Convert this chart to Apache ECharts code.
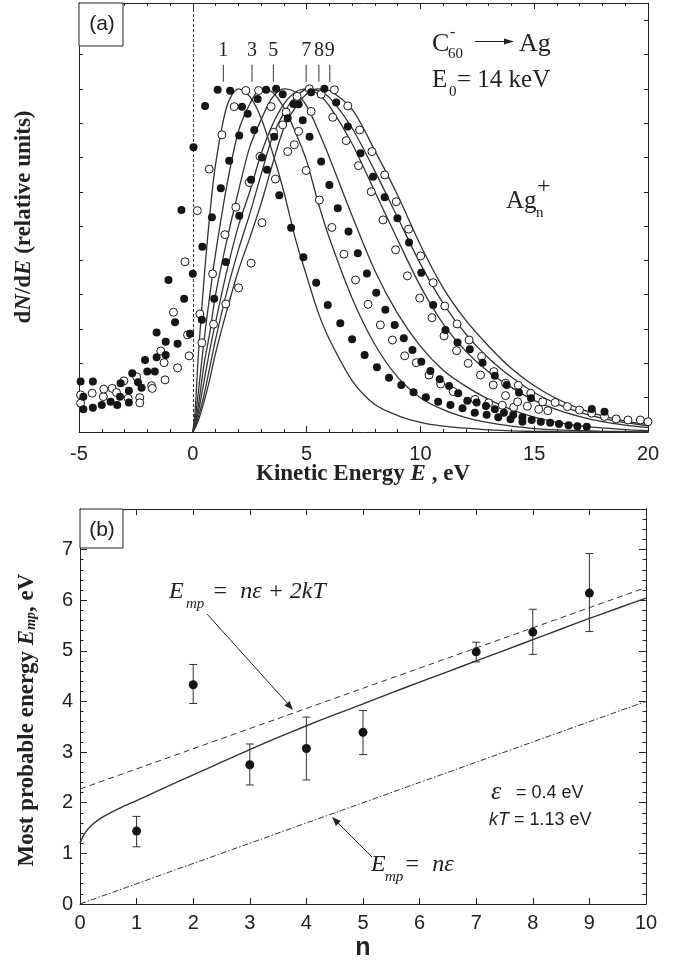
<!DOCTYPE html>
<html>
<head>
<meta charset="utf-8">
<script src="https://cdn.jsdelivr.net/npm/echarts@6/dist/echarts.min.js"></script>
<style>
  html, body { margin: 0; padding: 0; background: #fff; }
  #chart { width: 678px; height: 962px; }
</style>
</head>
<body>
<div id="chart"></div>
<script>
// ---- panel (a): fitted curves, sampled on one energy grid ----
const fitE = [0, 0.1, 0.25, 0.5, 0.75, 1, 1.5, 2, 2.5, 3, 3.5, 4, 4.5, 5, 5.5, 6, 7, 8, 9, 10, 11, 12, 13, 14, 15, 16, 17, 18, 19, 20];
const fit1 = [0, 0.06, 0.23, 0.45, 0.635, 0.78, 0.95, 1.0, 0.978, 0.915, 0.815, 0.7, 0.565, 0.455, 0.35, 0.27, 0.15, 0.08, 0.048, 0.028, 0.017, 0.011, 0.006, 0.003, 0.002, 0.001, 0, 0, 0, 0];
const fit3 = [0, 0.035, 0.12, 0.27, 0.4, 0.52, 0.72, 0.875, 0.955, 1.0, 0.99, 0.945, 0.875, 0.79, 0.67, 0.565, 0.39, 0.255, 0.16, 0.1, 0.065, 0.042, 0.027, 0.017, 0.01, 0.006, 0.004, 0.002, 0.001, 0];
const fit5 = [0, 0.025, 0.08, 0.2, 0.29, 0.4, 0.56, 0.7, 0.83, 0.91, 0.975, 1.0, 0.99, 0.95, 0.88, 0.8, 0.63, 0.47, 0.345, 0.25, 0.18, 0.133, 0.095, 0.065, 0.043, 0.028, 0.018, 0.012, 0.007, 0.004];
const fit7 = [0, 0.02, 0.06, 0.15, 0.24, 0.32, 0.47, 0.6, 0.7, 0.81, 0.895, 0.955, 0.99, 1.0, 0.985, 0.95, 0.84, 0.7, 0.56, 0.425, 0.315, 0.235, 0.175, 0.13, 0.092, 0.065, 0.045, 0.03, 0.02, 0.013];
const fit8 = [0, 0.015, 0.045, 0.11, 0.19, 0.27, 0.41, 0.53, 0.635, 0.75, 0.86, 0.93, 0.975, 0.998, 0.995, 0.975, 0.885, 0.76, 0.625, 0.49, 0.375, 0.285, 0.215, 0.16, 0.115, 0.082, 0.057, 0.04, 0.027, 0.018];
const fit9 = [0, 0.012, 0.035, 0.09, 0.155, 0.23, 0.355, 0.47, 0.565, 0.665, 0.78, 0.885, 0.945, 0.985, 1.0, 0.995, 0.94, 0.82, 0.69, 0.545, 0.42, 0.325, 0.25, 0.185, 0.135, 0.097, 0.068, 0.047, 0.032, 0.022];

// measured spectra, [E, dN/dE]
const dotsFilled = [
  [-4.93,0.147],[-4.81,0.103],[-4.81,0.066],[-4.39,0.147],[-4.39,0.071],[-4.0,0.079],[-3.61,0.088],[-3.32,0.079],
  [-3.2,0.103],[-3.17,0.142],[-2.81,0.12],[-2.81,0.086],[-2.66,0.171],[-2.41,0.145],[-2.25,0.129],[-2.1,0.21],
  [-2.0,0.176],[-1.67,0.176],[-1.59,0.29],[-1.59,0.218],[-1.19,0.263],[-1.19,0.224],[-1.07,0.443],[-0.78,0.32],
  [-0.67,0.257],[-0.5,0.647],[-0.38,0.388],[-0.12,0.286],[0.0,0.461],[0.03,0.83],
  [0.40,0.327],[0.42,0.54],[0.54,0.95],[0.84,0.626],[0.94,0.388],[1.09,0.997],[1.23,0.71],[1.45,0.495],
  [1.6,0.79],[1.64,0.994],[2.04,0.864],[2.04,0.63],[2.16,0.948],[2.41,0.927],[2.56,0.735],[2.7,0.88],
  [2.85,0.97],[3.04,0.80],[3.22,0.997],[3.26,0.764],[3.58,0.86],[3.66,1.0],[3.8,0.69],[3.95,0.984],
  [4.17,0.914],[4.32,0.595],[4.42,0.956],[4.65,0.955],[4.83,0.908],[4.86,0.509],[5.13,0.86],[5.2,0.99],
  [5.42,0.435],[5.64,0.788],[5.78,1.0],[5.93,0.37],[6.0,0.72],[6.3,0.96],[6.37,0.652],[6.48,0.317],
  [6.81,0.89],[6.84,0.584],[7.0,0.27],[7.25,0.521],[7.37,0.812],[7.55,0.224],[7.65,0.462],[7.92,0.744],
  [8.06,0.406],[8.09,0.189],[8.43,0.684],[8.46,0.356],[8.62,0.158],[8.87,0.312],[8.99,0.623],[9.16,0.137],
  [9.27,0.273],[9.5,0.552],[9.65,0.239],[9.7,0.116],[10.04,0.464],[10.04,0.205],[10.24,0.101],[10.44,0.178],
  [10.56,0.37],[10.78,0.088],[10.85,0.154],[11.1,0.297],[11.26,0.134],[11.32,0.079],[11.63,0.261],[11.66,0.113],
  [11.85,0.069],[12.06,0.091],[12.17,0.241],[12.39,0.056],[12.47,0.086],[12.73,0.202],[12.88,0.076],[12.91,0.05],
  [13.27,0.164],[13.27,0.066],[13.42,0.043],[13.67,0.056],[13.79,0.137],[13.96,0.037],[14.08,0.05],[14.33,0.115],
  [14.48,0.043],[14.48,0.03],[14.86,0.098],[14.89,0.035],[15.29,0.03],[15.7,0.027],[16.09,0.023],[16.51,0.02],
  [16.9,0.017],[17.31,0.015],[17.53,0.067],[18.09,0.059]
];
const dotsOpen = [
  [-4.93,0.108],[-4.93,0.084],[-4.42,0.113],[-3.93,0.103],[-3.91,0.125],[-3.54,0.127],[-3.35,0.115],[-3.03,0.149],
  [-2.84,0.098],[-2.47,0.161],[-2.33,0.1],[-2.33,0.085],[-1.81,0.135],[-1.78,0.127],[-1.41,0.236],[-1.26,0.202],
  [-1.22,0.152],[-0.85,0.349],[-0.67,0.187],[-0.34,0.496],[-0.23,0.283],[-0.16,0.222],
  [0.2,0.645],[0.31,0.344],[0.40,0.26],[0.72,0.766],[0.87,0.461],[0.91,0.314],[1.28,0.866],[1.41,0.575],
  [1.45,0.373],[1.82,0.948],[1.89,0.655],[2.01,0.42],[2.33,0.995],[2.48,0.727],[2.56,0.492],[2.89,0.995],
  [2.95,0.803],[3.04,0.61],[3.44,0.948],[3.55,0.873],[3.63,0.737],[3.95,0.895],[4.1,0.932],[4.17,0.817],
  [4.46,0.837],[4.58,0.978],[4.65,0.876],[4.98,0.762],[5.12,1.0],[5.2,0.934],[5.56,0.676],[5.64,0.984],
  [6.11,0.596],[6.15,0.917],[6.22,0.997],[6.64,0.518],[6.74,0.849],[6.81,0.95],[7.15,0.443],[7.28,0.776],
  [7.33,0.88],[7.7,0.372],[7.84,0.70],[7.87,0.817],[8.24,0.312],[8.36,0.618],[8.43,0.749],[8.77,0.268],
  [8.91,0.531],[8.94,0.671],[9.31,0.222],[9.43,0.455],[9.48,0.591],[9.82,0.202],[9.97,0.39],[10.01,0.513],
  [10.38,0.166],[10.51,0.333],[10.56,0.435],[10.89,0.14],[11.04,0.28],[11.07,0.367],[11.44,0.118],[11.59,0.237],
  [11.61,0.315],[12.1,0.2],[12.14,0.268],[12.4,0.095],[12.64,0.166],[12.69,0.22],[13.0,0.085],[13.2,0.137],
  [13.23,0.176],[13.6,0.078],[13.74,0.106],[13.74,0.142],[14.1,0.072],[14.27,0.088],[14.3,0.136],[14.7,0.075],
  [14.85,0.113],[15.2,0.066],[15.37,0.088],[15.6,0.062],[15.92,0.086],[16.46,0.074],[16.99,0.064],[17.53,0.055],
  [18.09,0.045],[18.6,0.038],[19.12,0.035],[19.66,0.035],[20.0,0.03]
];

// cluster size marks above the peaks
const peakNames = ['1', '3', '5', '7', '8', '9'];
const peakE = [1.34, 2.6, 3.54, 4.98, 5.54, 6.02];

// ---- panel (b) ----
const bN = [1, 2, 3, 4, 5, 7, 8, 9];
const bEmp = [1.44, 4.33, 2.75, 3.07, 3.39, 4.98, 5.37, 6.14];
const bLow = [1.13, 3.96, 2.35, 2.45, 2.95, 4.78, 4.93, 5.38];
const bHigh = [1.73, 4.73, 3.16, 3.69, 3.82, 5.17, 5.82, 6.92];
const modelN = [0, 0.05, 0.1, 0.2, 0.35, 0.5, 0.75, 1, 1.5, 2, 2.5, 3, 3.5, 4, 4.5, 5, 5.5, 6, 6.5, 7, 7.5, 8, 8.5, 9, 9.5, 10];
const modelE = [1.2, 1.33, 1.42, 1.55, 1.68, 1.78, 1.92, 2.04, 2.3, 2.55, 2.8, 3.05, 3.29, 3.52, 3.74, 3.95, 4.17, 4.38, 4.59, 4.8, 5.01, 5.22, 5.43, 5.64, 5.84, 6.04];
const upperN = [0, 10];
const upperE = [2.27, 6.25];   // n*eps + 2kT
const lowerN = [0, 10];
const lowerE = [0, 4.0];       // n*eps

const INK = '#222';
const SERIF = '"Liberation Serif", serif';
const SANS = '"Liberation Sans", sans-serif';

const pairs = (xs, ys) => xs.map((x, i) => [x, ys[i]]);

function fitSeries(vals) {
  return {
    type: 'line', xAxisIndex: 0, yAxisIndex: 0,
    data: pairs(fitE, vals),
    showSymbol: false, smooth: 0.3,
    lineStyle: { color: '#333', width: 1.3 },
    z: 3
  };
}

function boxAxis(extra) {
  return Object.assign({
    type: 'value',
    axisLine: { onZero: false, lineStyle: { color: INK, width: 1 } },
    axisTick: { inside: true, length: 6, lineStyle: { color: INK } },
    axisLabel: { show: false },
    splitLine: { show: false }
  }, extra);
}

const chart = echarts.init(document.getElementById('chart'), null, { renderer: 'canvas' });

chart.setOption({
  animation: false,
  backgroundColor: '#fff',
  grid: [
    { left: 79, top: 3, width: 569, height: 429 },
    { left: 80, top: 509, width: 566, height: 395 }
  ],
  xAxis: [
    boxAxis({ gridIndex: 0, position: 'bottom', min: -5, max: 20, interval: 5,
      minorTick: { show: true, splitNumber: 5, length: 3, lineStyle: { color: INK } },
      axisLabel: { show: true, margin: 12, color: INK, fontFamily: SANS, fontSize: 20 } }),
    boxAxis({ gridIndex: 0, position: 'top', min: -5, max: 20, interval: 5,
      minorTick: { show: true, splitNumber: 5, length: 3, lineStyle: { color: INK } } }),
    boxAxis({ gridIndex: 1, position: 'bottom', min: 0, max: 10, interval: 1,
      axisLabel: { show: true, margin: 9, color: INK, fontFamily: SANS, fontSize: 20 } }),
    boxAxis({ gridIndex: 1, position: 'top', min: 0, max: 10, interval: 1 })
  ],
  yAxis: [
    boxAxis({ gridIndex: 0, position: 'left', min: 0, max: 1.25, interval: 0.1, axisTick: { inside: true, length: 4, lineStyle: { color: INK } } }),
    boxAxis({ gridIndex: 0, position: 'right', min: 0, max: 1.25, interval: 0.1, axisTick: { inside: true, length: 4, lineStyle: { color: INK } } }),
    boxAxis({ gridIndex: 1, position: 'left', min: 0, max: 7.8, interval: 1, axisTick: { inside: true, length: 7, lineStyle: { color: INK } },
      axisLabel: { show: true, margin: 7, color: INK, fontFamily: SANS, fontSize: 20, showMaxLabel: false } }),
    boxAxis({ gridIndex: 1, position: 'left', min: 0, max: 7.8, interval: 0.2, axisTick: { inside: true, length: 3.5, lineStyle: { color: INK } } }),
    boxAxis({ gridIndex: 1, position: 'right', min: 0, max: 7.8, interval: 1, axisTick: { inside: true, length: 7, lineStyle: { color: INK } } }),
    boxAxis({ gridIndex: 1, position: 'right', min: 0, max: 7.8, interval: 0.2, axisTick: { inside: true, length: 3.5, lineStyle: { color: INK } } })
  ],
  series: [
    fitSeries(fit1), fitSeries(fit3), fitSeries(fit5), fitSeries(fit7), fitSeries(fit8), fitSeries(fit9),
    {
      type: 'scatter', xAxisIndex: 0, yAxisIndex: 0, data: dotsOpen,
      symbol: 'circle', symbolSize: 8,
      itemStyle: { color: '#fff', borderColor: '#1a1a1a', borderWidth: 1, opacity: 1 },
      z: 4
    },
    {
      type: 'scatter', xAxisIndex: 0, yAxisIndex: 0, data: dotsFilled,
      symbol: 'circle', symbolSize: 8,
      itemStyle: { color: '#151515', opacity: 1 },
      z: 5,
      markLine: {
        silent: true, symbol: 'none', label: { show: false },
        lineStyle: { color: '#333', width: 1, type: [3, 2] },
        data: [{ xAxis: 0 }]
      }
    },
    {
      type: 'scatter', xAxisIndex: 0, yAxisIndex: 0,
      data: peakE.map((e, i) => ({ value: [e, 1.045], name: peakNames[i] })),
      symbol: 'rect', symbolSize: [1, 17],
      itemStyle: { color: '#333', opacity: 1 },
      label: { show: true, position: 'top', distance: 4, formatter: p => p.name,
        color: INK, fontFamily: SERIF, fontSize: 20 },
      z: 6
    },
    // panel (b)
    {
      type: 'line', xAxisIndex: 2, yAxisIndex: 2, data: pairs(upperN, upperE),
      showSymbol: false, lineStyle: { color: '#333', width: 1, type: [6, 4] }
    },
    {
      type: 'line', xAxisIndex: 2, yAxisIndex: 2, data: pairs(lowerN, lowerE),
      showSymbol: false, lineStyle: { color: '#333', width: 1, type: [6, 2, 1.5, 2] }
    },
    {
      type: 'line', xAxisIndex: 2, yAxisIndex: 2, data: pairs(modelN, modelE),
      showSymbol: false, smooth: 0.2,
      lineStyle: { color: '#333', width: 1.4 }
    },
    {
      type: 'custom', xAxisIndex: 2, yAxisIndex: 2,
      data: bN.map((n, i) => [n, bLow[i], bHigh[i]]),
      renderItem: function (params, api) {
        const lo = api.coord([api.value(0), api.value(1)]);
        const hi = api.coord([api.value(0), api.value(2)]);
        const w = 4;
        const st = { stroke: '#333', lineWidth: 1 };
        return {
          type: 'group',
          children: [
            { type: 'line', shape: { x1: lo[0], y1: lo[1], x2: hi[0], y2: hi[1] }, style: st },
            { type: 'line', shape: { x1: lo[0] - w, y1: lo[1], x2: lo[0] + w, y2: lo[1] }, style: st },
            { type: 'line', shape: { x1: hi[0] - w, y1: hi[1], x2: hi[0] + w, y2: hi[1] }, style: st }
          ]
        };
      },
      z: 4
    },
    {
      type: 'scatter', xAxisIndex: 2, yAxisIndex: 2, data: pairs(bN, bEmp),
      symbol: 'circle', symbolSize: 9, itemStyle: { color: '#151515', opacity: 1 }, z: 5
    }
  ],
  graphic: [
    // panel letters
    { type: 'rect', shape: { x: 79, y: 3, width: 44, height: 43 }, style: { fill: '#fff', stroke: INK, lineWidth: 1 }, z: 10 },
    { type: 'text', x: 102, y: 24, z: 11, style: { text: '(a)', font: '21px ' + SANS, fill: INK, textAlign: 'center', textVerticalAlign: 'middle' } },
    { type: 'rect', shape: { x: 80, y: 509, width: 43, height: 39 }, style: { fill: '#fff', stroke: INK, lineWidth: 1 }, z: 10 },
    { type: 'text', x: 102, y: 530, z: 11, style: { text: '(b)', font: '21px ' + SANS, fill: INK, textAlign: 'center', textVerticalAlign: 'middle' } },

    // C60- -> Ag, E0 = 14 keV
    { type: 'text', x: 432, y: 44, style: { text: 'C', font: '26px ' + SERIF, fill: INK, textVerticalAlign: 'middle' } },
    { type: 'text', x: 448, y: 54, style: { text: '60', font: '15px ' + SERIF, fill: INK, textVerticalAlign: 'middle' } },
    { type: 'text', x: 450, y: 33, style: { text: '-', font: '16px ' + SERIF, fill: INK, textVerticalAlign: 'middle' } },
    { type: 'line', shape: { x1: 475, y1: 41.5, x2: 506, y2: 41.5 }, style: { stroke: INK, lineWidth: 1 } },
    { type: 'polygon', shape: { points: [[514, 41.5], [504, 38.5], [504, 44.5]] }, style: { fill: INK } },
    { type: 'text', x: 519, y: 44, style: { text: 'Ag', font: '26px ' + SERIF, fill: INK, textVerticalAlign: 'middle' } },
    { type: 'text', x: 432, y: 80, style: { text: 'E', font: '25px ' + SERIF, fill: INK, textVerticalAlign: 'middle' } },
    { type: 'text', x: 449, y: 92, style: { text: '0', font: '15px ' + SERIF, fill: INK, textVerticalAlign: 'middle' } },
    { type: 'text', x: 457, y: 80, style: { text: '= 14 keV', font: '25px ' + SERIF, fill: INK, textVerticalAlign: 'middle' } },
    // Ag_n^+
    { type: 'text', x: 506, y: 201, style: { text: 'Ag', font: '25px ' + SERIF, fill: INK, textVerticalAlign: 'middle' } },
    { type: 'text', x: 536, y: 213, style: { text: 'n', font: '15px ' + SERIF, fill: INK, textVerticalAlign: 'middle' } },
    { type: 'text', x: 537, y: 187, style: { text: '+', font: '24px ' + SERIF, fill: INK, textVerticalAlign: 'middle' } },

    // axis titles
    { type: 'text', x: 363, y: 474, style: {
        text: '{b|Kinetic Energy }{i|E}{b| , eV}', textAlign: 'center', textVerticalAlign: 'middle', fill: INK,
        rich: { b: { fontFamily: SERIF, fontWeight: 'bold', fontSize: 23 }, i: { fontFamily: SERIF, fontWeight: 'bold', fontStyle: 'italic', fontSize: 23 } } } },
    { type: 'text', x: 24, y: 217, rotation: Math.PI / 2, style: {
        text: '{b|d}{i|N}{b|/d}{i|E}{b| (relative units)}', textAlign: 'center', textVerticalAlign: 'middle', fill: INK,
        rich: { b: { fontFamily: SERIF, fontWeight: 'bold', fontSize: 23 }, i: { fontFamily: SERIF, fontWeight: 'bold', fontStyle: 'italic', fontSize: 23 } } } },
    { type: 'text', x: 27, y: 720, rotation: Math.PI / 2, style: {
        text: '{b|Most probable energy }{i|E}{s|mp}{b|, eV}', textAlign: 'center', textVerticalAlign: 'middle', fill: INK,
        rich: { b: { fontFamily: SERIF, fontWeight: 'bold', fontSize: 23 }, i: { fontFamily: SERIF, fontWeight: 'bold', fontStyle: 'italic', fontSize: 23 },
                s: { fontFamily: SERIF, fontWeight: 'bold', fontStyle: 'italic', fontSize: 14, verticalAlign: 'bottom' } } } },
    { type: 'text', x: 363, y: 948, style: { text: 'n', font: 'bold 25px ' + SANS, fill: INK, textAlign: 'center', textVerticalAlign: 'middle' } },

    // formula notes in (b)
    { type: 'text', x: 169, y: 592, style: { text: 'E', font: 'italic 24px ' + SERIF, fill: INK, textVerticalAlign: 'middle' } },
    { type: 'text', x: 186, y: 604, style: { text: 'mp', font: 'italic 15px ' + SERIF, fill: INK, textVerticalAlign: 'middle' } },
    { type: 'text', x: 212, y: 592, style: { text: '=  nε + 2kT', font: 'italic 24px ' + SERIF, fill: INK, textVerticalAlign: 'middle' } },
    { type: 'line', shape: { x1: 207, y1: 614, x2: 289, y2: 705 }, style: { stroke: INK, lineWidth: 1 } },
    { type: 'polygon', shape: { points: [[293, 710], [284.4, 705.6], [289.6, 701.0]] }, style: { fill: INK } },

    { type: 'text', x: 371, y: 865, style: { text: 'E', font: 'italic 24px ' + SERIF, fill: INK, textVerticalAlign: 'middle' } },
    { type: 'text', x: 385, y: 877, style: { text: 'mp', font: 'italic 15px ' + SERIF, fill: INK, textVerticalAlign: 'middle' } },
    { type: 'text', x: 404, y: 865, style: { text: '=  nε', font: 'italic 24px ' + SERIF, fill: INK, textVerticalAlign: 'middle' } },
    { type: 'line', shape: { x1: 372, y1: 857, x2: 336, y2: 821 }, style: { stroke: INK, lineWidth: 1 } },
    { type: 'polygon', shape: { points: [[332, 817], [340.9, 820.9], [335.9, 825.9]] }, style: { fill: INK } },

    { type: 'text', x: 491, y: 792, style: { text: 'ε', font: 'italic 26px ' + SERIF, fill: INK, textVerticalAlign: 'middle' } },
    { type: 'text', x: 516, y: 793, style: { text: '= 0.4 eV', font: '18px ' + SANS, fill: INK, textVerticalAlign: 'middle' } },
    { type: 'text', x: 489, y: 820, style: {
        text: '{i|kT}{u| = 1.13 eV}', textVerticalAlign: 'middle', fill: INK,
        rich: { i: { fontFamily: SANS, fontStyle: 'italic', fontSize: 18 }, u: { fontFamily: SANS, fontSize: 18 } } } }
  ]
});
</script>
</body>
</html>
